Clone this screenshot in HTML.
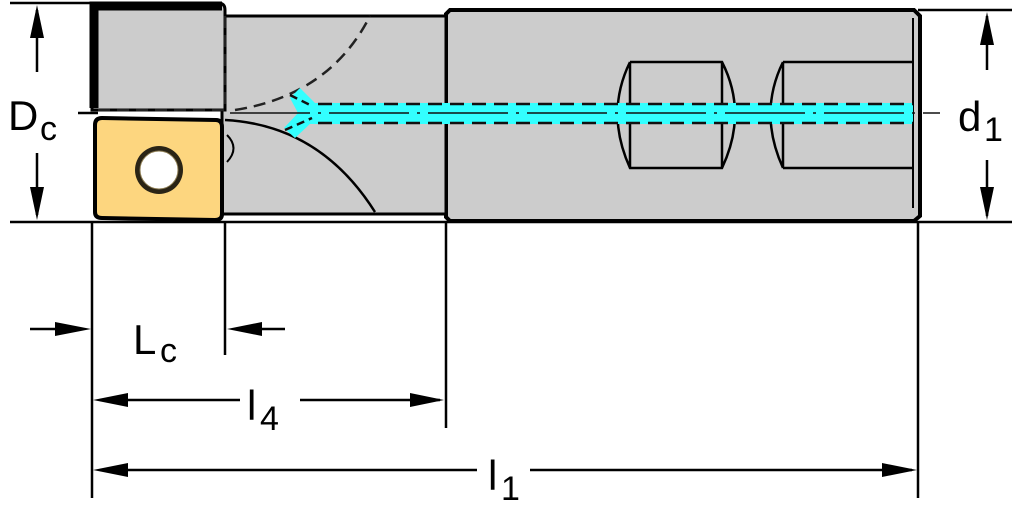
<!DOCTYPE html>
<html><head><style>html,body{margin:0;padding:0;background:#fff}svg{display:block}</style></head>
<body>
<svg width="1024" height="514" viewBox="0 0 1024 514" xmlns="http://www.w3.org/2000/svg" font-family="Liberation Sans, sans-serif">
<!-- shank -->
<path d="M446,14 L450,10 L914,10 L920,16 L920,216 L914,221 L450,221 L446,217 Z" fill="#cccccc" stroke="#000" stroke-width="4"/>
<!-- neck -->
<rect x="222" y="16" width="224" height="198" fill="#cccccc" stroke="#000" stroke-width="3"/>
<!-- upper head block -->
<path d="M92,110 L92,10 Q92,3 100,3 L218,3 Q225,3 225,10 L225,110 Z" fill="#cccccc" stroke="#000" stroke-width="3"/>
<path d="M94,108 L94,6 L222,6" fill="none" stroke="#000" stroke-width="9"/>
<!-- curve lower -->
<path d="M225,120 Q320,125 375,212" fill="none" stroke="#000" stroke-width="2.5"/>
<path d="M227,135 Q240,148 227,162" fill="none" stroke="#000" stroke-width="2"/>
<!-- dashed hidden lines -->
<path d="M225,16 L225,110 M98,110 L225,110 M235,110 Q330,95 370,16" fill="none" stroke="#222" stroke-width="2.5" stroke-dasharray="12,7"/>
<!-- insert -->
<path d="M95,125 Q95,118 102,118 L216,120 Q222,120 222,127 L222,214 Q222,220 215,220 L102,218 Q95,218 95,212 Z" fill="#fdd67f" stroke="#000" stroke-width="4"/>
<circle cx="159" cy="170" r="24" fill="#2a2416"/>
<circle cx="159" cy="170" r="19" fill="#fff" stroke="#8a7a50" stroke-width="1"/>
<!-- flats -->
<g fill="none" stroke="#000" stroke-width="2.5">
<path d="M630,62 L722,62 Q748,113 722,168 L630,168 Q605,113 630,62 M630,62 L630,168 M722,62 L722,168"/>
<path d="M783,62 L913,62 M783,168 L913,168 M783,62 Q758,113 783,168 M783,62 L783,168"/>
<path d="M913,18 L913,208" stroke-width="2"/>
</g>
<!-- cyan channel -->
<rect x="305" y="103" width="608" height="21" fill="#33ffff"/>
<path d="M300,88 L316,104 L312,122 L295,138 L284,128 L298,113 L290,98 Z" fill="#33ffff"/>
<g fill="none" stroke="#111" stroke-width="2.5">
<path d="M318,104 L913,104 M318,123 L913,123" stroke-dasharray="14,8"/>
<path d="M290,95 L312,106 M285,130 L312,118" stroke-dasharray="8,5"/>
<path d="M230,113 L940,113" stroke-width="1.5" stroke-dasharray="80,8,3,8"/>
</g>
<!-- dimension lines -->
<g stroke="#000" stroke-width="2.5" fill="none">
<path d="M10,3 L92,3 M10,222 L1012,222 M918,10 L1012,10"/>
<path d="M92,222 L92,498 M225,222 L225,355 M446,222 L446,428 M918,222 L918,498"/>
<path d="M37,10 L37,72 M37,153 L37,215 M987,16 L987,70 M987,160 L987,216"/>
<path d="M30,329 L80,329 M237,329 L285,329"/>
<path d="M100,400 L240,400 M300,400 L440,400"/>
<path d="M100,470 L477,470 M530,470 L912,470"/>
<path d="M78,113 L98,113"/>
</g>
<g fill="#000">
<path d="M37,5 L30,38 L44,38 Z M37,220 L30,187 L44,187 Z"/>
<path d="M987,12 L980,45 L994,45 Z M987,220 L980,187 L994,187 Z"/>
<path d="M91,329 L55,322 L55,336 Z M227,329 L262,322 L262,336 Z"/>
<path d="M93,400 L128,393 L128,407 Z M444,400 L410,393 L410,407 Z"/>
<path d="M93,470 L128,463 L128,477 Z M917,470 L882,463 L882,477 Z"/>
</g>
<g fill="#000" font-size="42">
<text x="8" y="130">D</text><text x="40" y="140" font-size="34">c</text>
<text x="958" y="131">d</text><text x="984" y="141" font-size="34">1</text>
<text x="133" y="354">L</text><text x="160" y="362" font-size="34">c</text>
<text x="247" y="420">l</text><text x="260" y="430" font-size="34">4</text>
<text x="488" y="490">l</text><text x="501" y="500" font-size="34">1</text>
</g>
</svg>
</body></html>
